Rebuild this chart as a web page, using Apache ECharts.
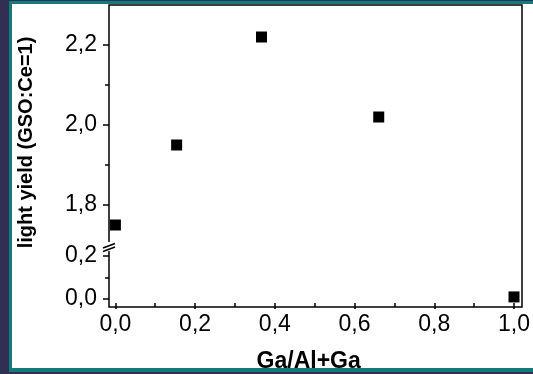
<!DOCTYPE html>
<html>
<head>
<meta charset="utf-8">
<script src="https://cdn.jsdelivr.net/npm/echarts@6/dist/echarts.min.js"></script>
<style>
  html, body { margin: 0; padding: 0; background: #312f52; width: 533px; height: 374px; overflow: hidden; }
  #frame {
    position: absolute; left: 9px; top: 1px; width: 524px; height: 371px;
    box-sizing: border-box; background: #ffffff;
    border-left: 3px solid #137b79; border-top: 3px solid #137b79; border-bottom: 4px solid #137b79;
  }
  #chart { position: absolute; left: 0; top: 0; width: 533px; height: 374px; }
</style>
</head>
<body>
<div id="frame"></div>
<div id="chart"></div>
<script>
// Ga fraction and relative light yield (normalised to GSO:Ce)
const gaFraction = [0, 0.153, 0.365, 0.658, 1.0];
const lightYield = [1.75, 1.95, 2.22, 2.02, 0.01];

// tick positions for the two y segments and the x axis
const yMajorUpper = [1.8, 2.0, 2.2];
const yMinorUpper = [1.9, 2.1];
const yMajorLower = [0.0, 0.2];
const yMinorLower = [0.1];
const xMajor = [0, 0.2, 0.4, 0.6, 0.8, 1.0];
const xMinor = [0.1, 0.3, 0.5, 0.7, 0.9];

// axis ranges
const xRange = [-0.016, 1.016];
const upperRange = [1.7, 2.3];
const lowerRange = [-0.018, 0.222];

// layout (px)
const L = 109, W = 413, TOP = 5;
const UP_H = 240;            // upper segment height
const LOW_TOP = 251, LOW_H = 56;
const GAP_TOP = 242;

const font = "'Liberation Sans', Arial, sans-serif";
const comma = v => v.toFixed(1).replace('.', ',');

// split points between the broken segments
const upperPts = [], lowerPts = [];
gaFraction.forEach((x, i) => {
  const y = lightYield[i];
  if (y >= upperRange[0]) upperPts.push([x, y]); else lowerPts.push([x, y]);
});

const tickStyle = { color: '#000', width: 1.5 };
const yLabelStyle = { color: '#000', fontSize: 23, fontFamily: font, margin: 12, formatter: comma };
const xLabelStyle = { color: '#000', fontSize: 23, fontFamily: font, margin: 10, formatter: comma };
const noLine = { show: false, onZero: false };

function yAxes(grid, range, major, minor) {
  return [
    { type: 'value', gridIndex: grid, position: 'left', min: range[0], max: range[1],
      axisLine: noLine, splitLine: { show: false },
      axisTick: { show: true, length: 6, lineStyle: tickStyle, customValues: major },
      axisLabel: Object.assign({ customValues: major }, yLabelStyle) },
    { type: 'value', gridIndex: grid, position: 'left', min: range[0], max: range[1],
      axisLine: noLine, splitLine: { show: false },
      axisTick: { show: true, length: 4, lineStyle: tickStyle, customValues: minor },
      axisLabel: { show: false } }
  ];
}

const chart = echarts.init(document.getElementById('chart'), null, { renderer: 'canvas' });

const option = {
  animation: false,
  backgroundColor: 'transparent',
  grid: [
    { left: L, top: TOP, width: W, height: UP_H },
    { left: L, top: LOW_TOP, width: W, height: LOW_H },
    { left: L, top: TOP, width: W, height: LOW_TOP + LOW_H - TOP, show: true,
      backgroundColor: 'transparent', borderColor: '#000', borderWidth: 1.5, z: 0 }
  ],
  xAxis: [
    { type: 'value', gridIndex: 0, min: xRange[0], max: xRange[1], show: false, axisLine: noLine },
    { type: 'value', gridIndex: 1, position: 'bottom', min: xRange[0], max: xRange[1],
      axisLine: noLine, splitLine: { show: false },
      axisTick: { show: true, length: 6, lineStyle: tickStyle, customValues: xMajor },
      axisLabel: Object.assign({ customValues: xMajor }, xLabelStyle),
      name: 'Ga/Al+Ga', nameLocation: 'middle', nameGap: 47,
      nameTextStyle: { color: '#000', fontSize: 23, fontWeight: 'bold', fontFamily: font, padding: [0, 12, 0, 0] } },
    { type: 'value', gridIndex: 1, position: 'bottom', min: xRange[0], max: xRange[1],
      axisLine: noLine, splitLine: { show: false },
      axisTick: { show: true, length: 4, lineStyle: tickStyle, customValues: xMinor },
      axisLabel: { show: false } },
    { type: 'value', gridIndex: 2, min: 0, max: 1, show: false, axisLine: noLine }
  ],
  yAxis: [
    ...yAxes(0, upperRange, yMajorUpper, yMinorUpper),
    ...yAxes(1, lowerRange, yMajorLower, yMinorLower),
    { type: 'value', gridIndex: 2, position: 'left', min: 0, max: 1,
      axisLine: noLine, axisTick: { show: false }, axisLabel: { show: false }, splitLine: { show: false },
      name: 'light yield (GSO:Ce=1)', nameLocation: 'middle', nameGap: 73,
      nameTextStyle: { color: '#000', fontSize: 20, fontWeight: 'bold', fontFamily: font, padding: [0, 0, 0, 27] } }
  ],
  series: [
    { type: 'scatter', xAxisIndex: 0, yAxisIndex: 0, data: upperPts, symbol: 'rect', symbolSize: 11,
      itemStyle: { color: '#000', opacity: 1 }, clip: false, z: 5 },
    { type: 'scatter', xAxisIndex: 1, yAxisIndex: 2, data: lowerPts, symbol: 'rect', symbolSize: 11,
      itemStyle: { color: '#000', opacity: 1 }, clip: false, z: 5 }
  ],
  graphic: [
    // axis break: cut the left axis and draw the two slashes
    { type: 'rect', z: 50, shape: { x: L - 3, y: GAP_TOP, width: 6, height: LOW_TOP - GAP_TOP },
      style: { fill: '#fff' } },
    { type: 'line', z: 51, shape: { x1: L - 6, y1: GAP_TOP + 6, x2: L + 6, y2: GAP_TOP + 1.5 },
      style: { stroke: '#000', lineWidth: 1.5 } },
    { type: 'line', z: 51, shape: { x1: L - 6, y1: GAP_TOP + 9.5, x2: L + 6, y2: GAP_TOP + 5 },
      style: { stroke: '#000', lineWidth: 1.5 } }
  ]
};

chart.setOption(option);
</script>
</body>
</html>
